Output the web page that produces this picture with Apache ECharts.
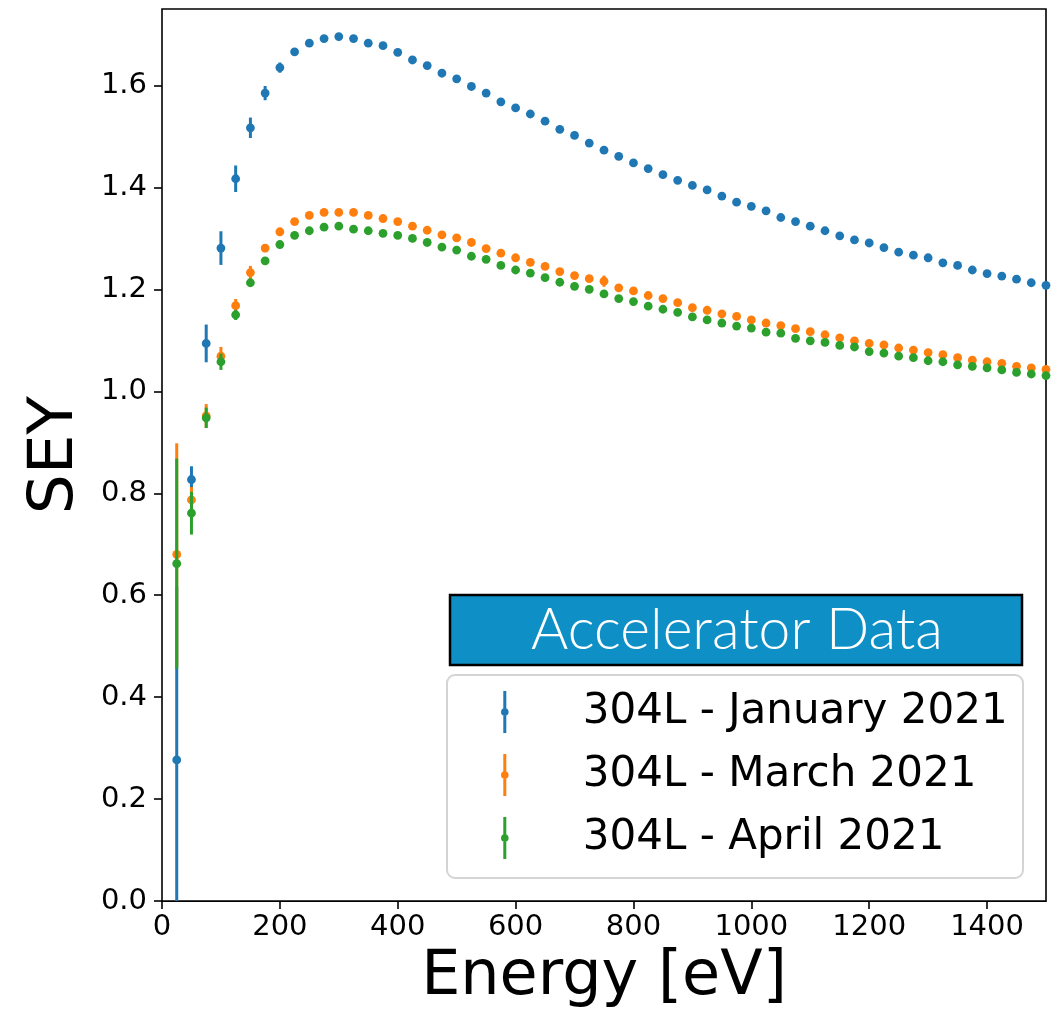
<!DOCTYPE html>
<html>
<head>
<meta charset="utf-8">
<script src="https://cdn.jsdelivr.net/npm/echarts@6/dist/echarts.min.js"></script>
<style>
  html, body { margin: 0; padding: 0; background: #fff; }
  #main { width: 1051px; height: 1014px; }
</style>
</head>
<body>
<div id="main"></div>
<script>
// energies [eV]
var energy = [25, 50, 75, 100, 125, 150, 175, 200, 225, 250, 275, 300, 325, 350, 375, 400,
  425, 450, 475, 500, 525, 550, 575, 600, 625, 650, 675, 700, 725, 750, 775, 800,
  825, 850, 875, 900, 925, 950, 975, 1000, 1025, 1050, 1075, 1100, 1125, 1150, 1175, 1200,
  1225, 1250, 1275, 1300, 1325, 1350, 1375, 1400, 1425, 1450, 1475, 1500];

var seyJan = [0.277, 0.827, 1.094, 1.281, 1.417, 1.517, 1.585, 1.635, 1.666, 1.683, 1.692, 1.696,
  1.692, 1.683, 1.678, 1.665, 1.650, 1.639, 1.624, 1.613, 1.598, 1.585, 1.568, 1.556,
  1.544, 1.530, 1.514, 1.502, 1.487, 1.473, 1.461, 1.448, 1.437, 1.425, 1.414, 1.404,
  1.395, 1.383, 1.371, 1.363, 1.354, 1.341, 1.333, 1.324, 1.315, 1.305, 1.297, 1.291,
  1.282, 1.273, 1.267, 1.262, 1.252, 1.247, 1.238, 1.231, 1.226, 1.220, 1.213, 1.208];
var errJan = [0.34, 0.026, 0.037, 0.033, 0.026, 0.02, 0.014, 0.01, 0.006, 0.004, 0.004, 0.004,
  0.004, 0.004, 0.004, 0.004, 0.004, 0.004, 0.004, 0.004, 0.004, 0.004, 0.004, 0.004,
  0.004, 0.004, 0.004, 0.004, 0.004, 0.004, 0.004, 0.004, 0.004, 0.004, 0.004, 0.004,
  0.004, 0.004, 0.004, 0.004, 0.004, 0.004, 0.004, 0.004, 0.004, 0.004, 0.004, 0.004,
  0.004, 0.004, 0.004, 0.004, 0.004, 0.004, 0.004, 0.004, 0.004, 0.004, 0.004, 0.004];

var seyMar = [0.680, 0.787, 0.952, 1.069, 1.168, 1.233, 1.281, 1.313, 1.333, 1.345, 1.351, 1.351,
  1.351, 1.345, 1.339, 1.333, 1.324, 1.316, 1.307, 1.301, 1.292, 1.280, 1.271, 1.262,
  1.253, 1.245, 1.235, 1.227, 1.221, 1.216, 1.203, 1.197, 1.188, 1.182, 1.174, 1.164,
  1.159, 1.152, 1.147, 1.140, 1.134, 1.129, 1.123, 1.117, 1.111, 1.105, 1.099, 1.094,
  1.091, 1.085, 1.081, 1.076, 1.072, 1.066, 1.061, 1.058, 1.055, 1.049, 1.046, 1.043];
var errMar = [0.218, 0.025, 0.023, 0.018, 0.013, 0.013, 0.008, 0.005, 0.004, 0.004, 0.004, 0.004,
  0.004, 0.004, 0.004, 0.004, 0.004, 0.004, 0.004, 0.004, 0.004, 0.004, 0.004, 0.004,
  0.004, 0.004, 0.004, 0.004, 0.004, 0.011, 0.004, 0.004, 0.004, 0.004, 0.004, 0.004,
  0.004, 0.004, 0.004, 0.004, 0.004, 0.004, 0.004, 0.004, 0.004, 0.004, 0.004, 0.004,
  0.004, 0.004, 0.004, 0.004, 0.004, 0.004, 0.004, 0.004, 0.004, 0.004, 0.004, 0.004];

var seyApr = [0.662, 0.761, 0.948, 1.058, 1.150, 1.213, 1.256, 1.288, 1.306, 1.315, 1.322, 1.324,
  1.318, 1.315, 1.310, 1.306, 1.300, 1.292, 1.283, 1.277, 1.265, 1.259, 1.247, 1.238,
  1.232, 1.223, 1.214, 1.206, 1.200, 1.191, 1.182, 1.176, 1.167, 1.161, 1.155, 1.146,
  1.140, 1.134, 1.128, 1.124, 1.116, 1.114, 1.104, 1.099, 1.096, 1.090, 1.087, 1.078,
  1.075, 1.069, 1.066, 1.060, 1.058, 1.052, 1.049, 1.046, 1.042, 1.037, 1.034, 1.031];
var errApr = [0.206, 0.042, 0.02, 0.016, 0.01, 0.008, 0.004, 0.004, 0.004, 0.004, 0.004, 0.004,
  0.004, 0.004, 0.004, 0.004, 0.004, 0.004, 0.004, 0.004, 0.004, 0.004, 0.004, 0.004,
  0.004, 0.004, 0.004, 0.004, 0.004, 0.004, 0.004, 0.004, 0.004, 0.004, 0.004, 0.004,
  0.004, 0.004, 0.004, 0.004, 0.004, 0.004, 0.004, 0.004, 0.004, 0.004, 0.004, 0.004,
  0.004, 0.004, 0.004, 0.004, 0.004, 0.004, 0.004, 0.004, 0.004, 0.004, 0.004, 0.004];

var names = ['304L - January 2021', '304L - March 2021', '304L - April 2021'];
var colors = ['#1f77b4', '#ff7f0e', '#2ca02c'];
var xTicks = [0, 200, 400, 600, 800, 1000, 1200, 1400];
var yTicks = [0, 0.2, 0.4, 0.6, 0.8, 1.0, 1.2, 1.4, 1.6];

var chart = echarts.init(document.getElementById('main'));

// errorbar + dot drawn together, like matplotlib errorbar()
function errRender(color) {
  return function (params, api) {
    var x = api.value(0), y = api.value(1), e = api.value(2);
    var p = api.coord([x, y]);
    var top = api.coord([x, y + e]);
    var bot = api.coord([x, y - e]);
    var cs = params.coordSys;
    var y0 = Math.max(top[1], cs.y);
    var y1 = Math.min(bot[1], cs.y + cs.height);
    return {
      type: 'group',
      children: [
        { type: 'line', shape: { x1: p[0], y1: y0, x2: p[0], y2: y1 },
          style: { stroke: color, lineWidth: 3 } },
        { type: 'circle', shape: { cx: p[0], cy: p[1], r: 4.4 },
          style: { fill: color } }
      ]
    };
  };
}

function makeData(vals, errs) {
  return energy.map(function (e, i) { return [e, vals[i], errs[i]]; });
}

var allVals = [seyJan, seyMar, seyApr];
var allErrs = [errJan, errMar, errApr];
var series = names.map(function (n, k) {
  return {
    name: n,
    type: 'custom',
    renderItem: errRender(colors[k]),
    itemStyle: { color: colors[k] },
    encode: { x: 0, y: 1 },
    data: makeData(allVals[k], allErrs[k]),
    z: 2 + k
  };
});

var legendIcon = 'path://M3.5,0 L6.5,0 L6.5,42 L3.5,42 Z M1.2,21 A3.8,3.8 0 1 1 8.8,21 A3.8,3.8 0 1 1 1.2,21 Z';

chart.setOption({
  animation: false,
  backgroundColor: '#fff',
  grid: {
    left: 162, right: 5, top: 9, bottom: 112,
    show: true, borderColor: '#000', borderWidth: 1.6, backgroundColor: 'transparent'
  },
  xAxis: {
    type: 'value', min: 0, max: 1500,
    name: 'Energy [eV]', nameLocation: 'middle', nameGap: 41,
    nameTextStyle: { fontFamily: 'DejaVu Sans', fontSize: 62, color: '#000' },
    axisLine: { show: false },
    axisTick: { show: true, length: 8, inside: false, customValues: xTicks,
      lineStyle: { color: '#000', width: 1.6 } },
    axisLabel: { customValues: xTicks, margin: 12, fontFamily: 'DejaVu Sans', fontSize: 29, color: '#000',
      formatter: function (v) { return String(v); } },
    splitLine: { show: false }
  },
  yAxis: {
    type: 'value', min: 0, max: 1.75,
    name: 'SEY', nameLocation: 'middle', nameGap: 75,
    nameTextStyle: { fontFamily: 'DejaVu Sans', fontSize: 63, color: '#000' },
    axisLine: { show: false },
    axisTick: { show: true, length: 8, inside: false, customValues: yTicks,
      lineStyle: { color: '#000', width: 1.6 } },
    axisLabel: { customValues: yTicks, margin: 15, fontFamily: 'DejaVu Sans', fontSize: 29, color: '#000',
      formatter: function (v) { return v.toFixed(1); } },
    splitLine: { show: false }
  },
  legend: {
    orient: 'vertical',
    left: 501, top: 691,
    padding: 0,
    itemWidth: 10, itemHeight: 42, itemGap: 21,
    z: 6,
    textStyle: { fontFamily: 'DejaVu Sans', fontSize: 42, color: '#000', padding: [0, 0, 0, 68] },
    data: names.map(function (n) { return { name: n, icon: legendIcon }; })
  },
  graphic: [
    { type: 'rect', z: 5, shape: { x: 447, y: 675, width: 576, height: 203, r: 8 },
      style: { fill: 'rgba(255,255,255,0.85)', stroke: '#d4d4d4', lineWidth: 2 } },
    { type: 'rect', z: 5, shape: { x: 450, y: 595, width: 572, height: 70 },
      style: { fill: '#0e8fc6', stroke: '#000', lineWidth: 2.5 } },
    { type: 'text', z: 6, x: 737, y: 631,
      style: { text: 'Accelerator Data', fill: '#fff', font: '300 57px Lato',
        textAlign: 'center', textVerticalAlign: 'middle' } }
  ],
  series: series
});
</script>
</body>
</html>
